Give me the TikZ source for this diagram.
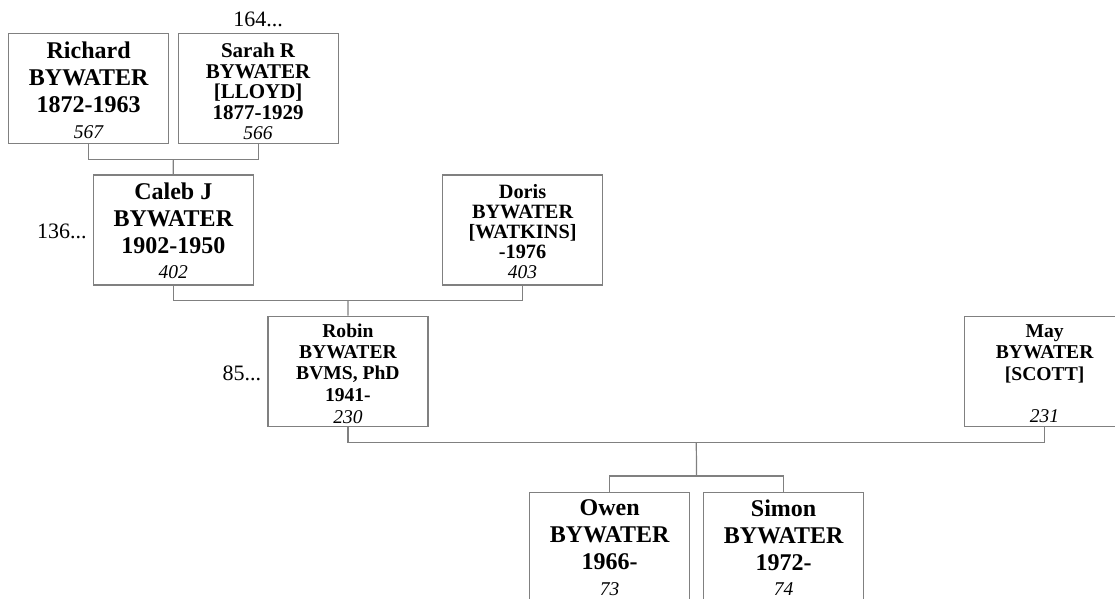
\documentclass[tikz,border=0pt]{standalone}
\usepackage{fontspec}
\setmainfont{Liberation Serif}
\usetikzlibrary{calc}
\definecolor{linegray}{RGB}{128,128,128}
\newcommand\pnum[1]{{\normalfont\itshape\fontsize{19.5}{19.5}\selectfont #1}}
\tikzset{
  person/.style={draw=linegray, line width=1.2pt, fill=white, minimum width=160pt,
    minimum height=110pt, inner sep=0pt, align=center, anchor=north west},
  bigp/.style={person, font=\bfseries\fontsize{24}{27}\selectfont},
  smallp/.style 2 args={person, font=\bfseries\fontsize{#1}{#2}\selectfont},
  conn/.style={draw=linegray, line width=1.2pt},
  more/.style={font=\fontsize{22}{22}\selectfont, inner sep=0pt}
}
\begin{document}
\begin{tikzpicture}[x=1pt,y=-1pt]
\clip (0,0) rectangle (1115,598);
\useasboundingbox (0,0) rectangle (1115,598);
\fill[white] (0,0) rectangle (1115,598);

\node[bigp] (richard) at (8,33) {\rule{0pt}{19pt}Richard\\BYWATER\\1872-1963\\[-1pt]\pnum{567}};
\node[smallp={21}{20.5}] (sarah) at (177.5,33) {\rule{0pt}{20pt}Sarah R\\BYWATER\\{[}LLOYD{]}\\1877-1929\\\pnum{566}};
\node[bigp] (caleb) at (92.7,174.3) {\rule{0pt}{18.5pt}Caleb J\\BYWATER\\1902-1950\\[-1.5pt]\pnum{402}};
\node[smallp={20.3}{20}] (doris) at (442,174.3) {\rule{0pt}{16.5pt}Doris\\BYWATER\\{[}WATKINS{]}\\-1976\\\pnum{403}};
\node[smallp={19.6}{21.3}] (robin) at (267.3,315.7) {\rule{0pt}{18pt}Robin\\BYWATER\\BVMS, PhD\\1941-\\[0.5pt]\pnum{230}};
\node[smallp={19.6}{21.3}] (may) at (964,315.7) {\rule{0pt}{18pt}May\\BYWATER\\{[}SCOTT{]}\\ \\\pnum{231}};
\node[bigp] (owen) at (529,492) {Owen\\BYWATER\\1966-\\[-1.5pt]\pnum{73}};
\node[bigp] (simon) at (703,492) {Simon\\BYWATER\\1972-\\[-1.5pt]\pnum{74}};

\node[more, anchor=base] (sarahmore) at ([yshift=6.3pt]sarah.north) {164...};
\node[more, anchor=base east] (calebmore) at ([xshift=-6pt,yshift=-8.4pt]caleb.west) {136...};
\node[more, anchor=base east] (robinmore) at ([xshift=-6pt,yshift=-9.3pt]robin.west) {85...};

\draw[conn] (richard.south) -- ++(0,15.3) -| (sarah.south);
\draw[conn] ($(richard.south)!0.5!(sarah.south)+(0,15.3)$) -- (caleb.north);
\draw[conn] (caleb.south) -- ++(0,15.3) -| (doris.south);
\draw[conn] ($(caleb.south)!0.5!(doris.south)+(0,15.3)$) -- (robin.north);
\draw[conn] (robin.south) -- ++(0,15.3) -| (may.south);
\draw[conn] (owen.north) -- ++(0,-16) -| (simon.north);
\draw[conn] ($(robin.south)!0.5!(may.south)+(0,15.3)$) -- ($(owen.north)!0.5!(simon.north)+(0,-16)$);
\end{tikzpicture}
\end{document}
